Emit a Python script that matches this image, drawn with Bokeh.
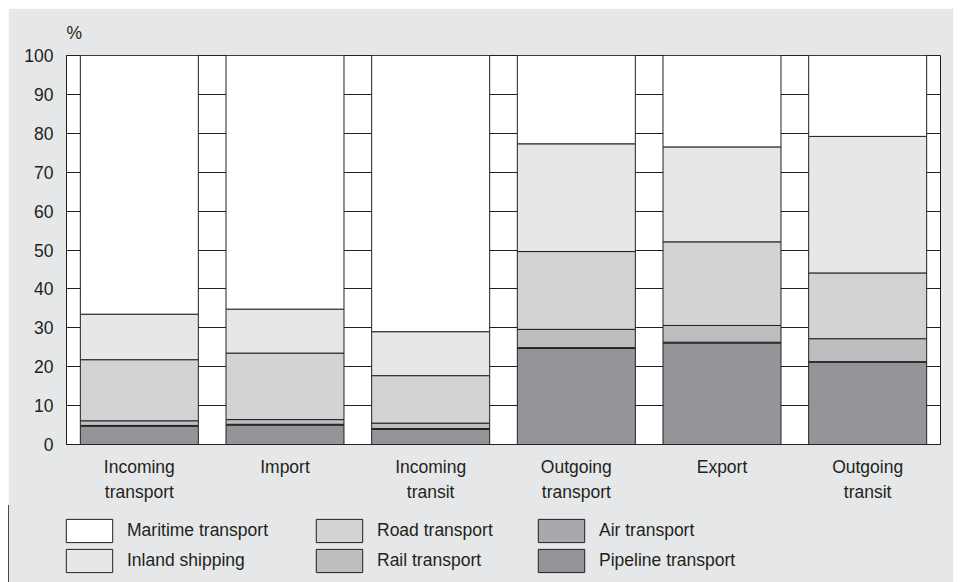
from bokeh.plotting import figure
from bokeh.models import (ColumnDataSource, Range1d, FixedTicker, Legend, LegendItem,
                          LinearAxis)
from bokeh.layouts import column
from bokeh.embed import file_html
from bokeh.resources import INLINE

# ---- data ----
categories = ["Incoming transport", "Import", "Incoming transit",
              "Outgoing transport", "Export", "Outgoing transit"]
label_line1 = ["Incoming", "Import", "Incoming", "Outgoing", "Export", "Outgoing"]
label_line2 = ["transport", "", "transit", "transport", "", "transit"]

pipeline = [4.7, 5.0, 3.9, 24.7, 26.1, 21.2]
air = [0.2, 0.2, 0.2, 0.2, 0.2, 0.1]
rail = [1.2, 1.2, 1.4, 4.7, 4.3, 5.9]
road = [15.7, 17.1, 12.2, 20.0, 21.5, 16.9]
inland = [11.7, 11.3, 11.3, 27.7, 24.4, 35.1]
maritime = [66.5, 65.2, 71.0, 22.7, 23.5, 20.8]

series_keys = ["pipeline", "air", "rail", "road", "inland", "maritime"]
series_names = ["Pipeline transport", "Air transport", "Rail transport",
                "Road transport", "Inland shipping", "Maritime transport"]
series_colors = ["#939598", "#a7a9ac", "#bcbec0", "#d1d3d4", "#e6e7e8", "#ffffff"]
legend_columns = [["maritime", "inland"], ["road", "rail"], ["air", "pipeline"]]

y_ticks = list(range(0, 101, 10))

# ---- style ----
BG = "#e6e7e8"
INK = "#231f20"
FONT = "Liberation Sans"
FS = "17.5px"

xs = list(range(len(categories)))
source = ColumnDataSource(dict(x=xs, pipeline=pipeline, air=air, rail=rail,
                               road=road, inland=inland, maritime=maritime))

# ---- main chart ----
p = figure(x_range=Range1d(-0.5, len(categories) - 0.5), y_range=Range1d(0, 100),
           width=945, height=497, output_backend="svg", toolbar_location=None,
           min_border_left=58, min_border_right=13, min_border_top=47,
           min_border_bottom=61)
p.margin = (8, 8, 0, 8)
p.background_fill_color = "white"
p.border_fill_color = BG
p.outline_line_color = INK
p.outline_line_width = 1

renderers = p.vbar_stack(series_keys, x="x", width=0.81, source=source,
                         fill_color=series_colors, line_color=INK, line_width=1)

p.title.text = "%"
p.title.align = "left"
p.title.text_font = FONT
p.title.text_font_size = FS
p.title.text_font_style = "normal"
p.title.text_color = INK
p.title.standoff = 25

p.yaxis.ticker = FixedTicker(ticks=y_ticks)
p.ygrid.ticker = FixedTicker(ticks=y_ticks)
p.ygrid.grid_line_color = INK
p.ygrid.grid_line_width = 1
p.xgrid.visible = False

p.xaxis.ticker = FixedTicker(ticks=xs)
p.xaxis.major_label_overrides = dict(zip(xs, label_line1))
ax2 = LinearAxis(ticker=FixedTicker(ticks=xs),
                 major_label_overrides=dict(zip(xs, label_line2)))
p.add_layout(ax2, "below")

for ax in (p.xaxis[0], p.yaxis[0], ax2):
    ax.major_tick_in = 0
    ax.major_tick_out = 0
    ax.minor_tick_in = 0
    ax.minor_tick_out = 0
    ax.axis_line_color = INK
    ax.major_label_text_font = FONT
    ax.major_label_text_font_size = FS
    ax.major_label_text_color = INK

ax2.axis_line_alpha = 0
ax2.major_label_standoff = 2
p.yaxis.major_label_standoff = 13
p.xaxis[0].major_label_standoff = 12

# ---- legend strip: its own frame spans the whole strip ----
lf = figure(x_range=Range1d(100, 101), y_range=Range1d(0, 1), width=945, height=77,
            output_backend="svg", toolbar_location=None,
            x_axis_location=None, y_axis_location=None,
            min_border_left=0, min_border_right=0, min_border_top=0, min_border_bottom=0)
lf.frame_align = False
lf.margin = (0, 8, 0, 8)
lf.background_fill_color = BG
lf.border_fill_color = BG
lf.outline_line_color = BG
lf.grid.visible = False

leg_r = {}
for k, c in zip(series_keys, series_colors):
    leg_r[k] = lf.vbar(x="x", top=k, width=0.81, source=source,
                       fill_color=c, line_color=INK, line_width=1)
name_by_key = dict(zip(series_keys, series_names))

# legend glyph boxes are inset by 10% when drawn, so the boxes are enlarged
col_x = [52, 302, 524]
for keys, x in zip(legend_columns, col_x):
    items = [LegendItem(label=name_by_key[k], renderers=[leg_r[k]]) for k in keys]
    leg = Legend(items=items, location=(x, 7), orientation="vertical",
                 padding=0, margin=0, spacing=1, glyph_width=58, glyph_height=29,
                 label_standoff=9, label_text_font=FONT, label_text_font_size=FS,
                 label_text_color=INK, border_line_alpha=0, background_fill_alpha=0)
    lf.add_layout(leg, "center")

layout = column(p, lf, spacing=0)
open("out.html", "w").write(file_html(layout, INLINE))
